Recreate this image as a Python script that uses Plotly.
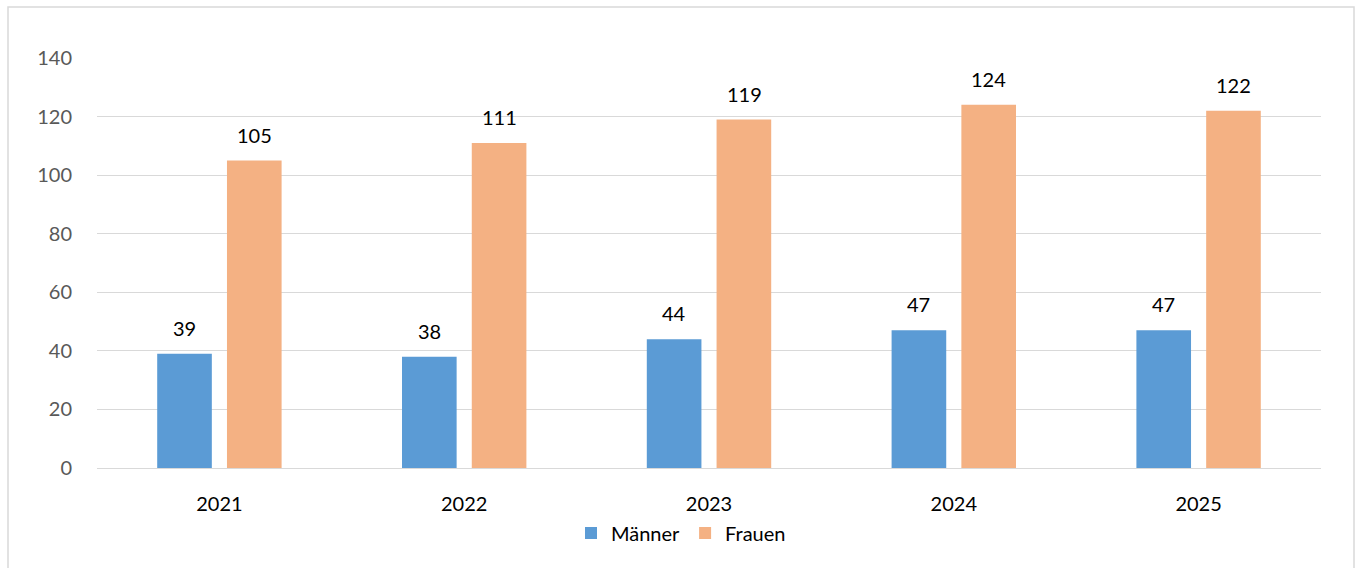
import plotly.graph_objects as go

years = ["2021", "2022", "2023", "2024", "2025"]
maenner = [39, 38, 44, 47, 47]
frauen = [105, 111, 119, 124, 122]
y_ticks = [0, 20, 40, 60, 80, 100, 120, 140]

FONT = "Lato"
fig = go.Figure()
fig.add_trace(go.Bar(name="Männer", x=years, y=maenner, marker=dict(color="#5B9BD5", line_width=0)))
fig.add_trace(go.Bar(name="Frauen", x=years, y=frauen, marker=dict(color="#F4B183", line_width=0)))

ann = []
for series, shift in ((maenner, -35), (frauen, 35)):
    for i, v in enumerate(series):
        ann.append(dict(x=i, y=v, xref="x", yref="y", text=str(v), showarrow=False,
                        xshift=shift, yshift=26, yanchor="middle",
                        font=dict(family=FONT, size=20, color="#000000")))

L, R, T, B = 97, 37, 58, 100
W, H = 1358, 568
pw, ph = W - L - R, H - T - B

fig.update_layout(
    width=W, height=H,
    margin=dict(l=L, r=R, t=T, b=B),
    paper_bgcolor="white", plot_bgcolor="white",
    barmode="group", bargap=0.43, bargroupgap=0.217,
    font=dict(family=FONT, size=20, color="#595959"),
    showlegend=True,
    legend=dict(orientation="h", x=0.5 - 28 / pw, xanchor="center", y=(T + ph - 533) / ph, yanchor="middle",
                font=dict(family=FONT, size=20, color="#000000"), traceorder="normal",
                itemwidth=30, bgcolor="rgba(0,0,0,0)"),
    annotations=ann,
    shapes=[dict(type="rect", xref="paper", yref="paper",
                 x0=(8 - L) / pw, x1=(1354 - L) / pw,
                 y0=(T + ph - 580) / ph, y1=(T + ph - 7) / ph,
                 line=dict(color="#D9D9D9", width=1.5), fillcolor="rgba(0,0,0,0)", layer="below")],
)
fig.update_xaxes(type="category", range=[-0.5, 4.5], showgrid=False, showline=True,
                 linecolor="#D9D9D9", linewidth=1,
                 ticks="outside", ticklen=18, tickcolor="rgba(0,0,0,0)",
                 tickfont=dict(family=FONT, size=20, color="#000000"))
fig.update_yaxes(range=[0, 140], tickvals=y_ticks, showgrid=True, gridcolor="#D9D9D9", gridwidth=1,
                 zeroline=False, showline=False,
                 ticks="outside", ticklen=20, tickcolor="rgba(0,0,0,0)",
                 tickfont=dict(family=FONT, size=20, color="#595959"))

fig.write_html("out.html", config={"displayModeBar": False},
               post_script="document.body.style.margin='0';document.body.style.overflow='hidden';")
